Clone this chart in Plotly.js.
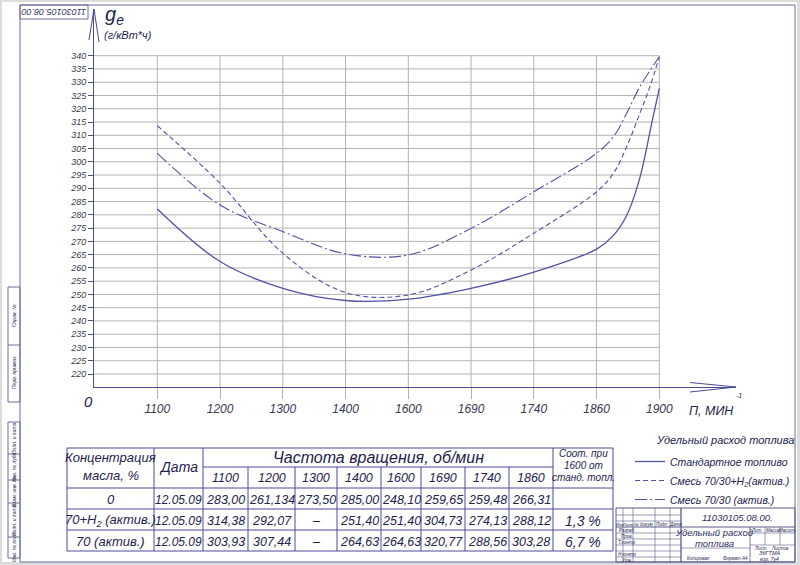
<!DOCTYPE html>
<html><head><meta charset="utf-8">
<script src="https://cdn.plot.ly/plotly-3.0.1.min.js"></script>
<style>html,body{margin:0;padding:0;background:#fff}#g{width:800px;height:565px}</style>
</head><body><div id="g"></div>
<script>
// ---------- data ----------
const rpmLabels = ['1100','1200','1300','1400','1600','1690','1740','1860','1900'];
const yTickVals = [220,225,230,235,240,245,250,255,260,265,270,275,280,285,290,295,300,305,310,315,320,325,330,335,340];

// curves (x = position index of the rpm column)
const stdX  = [0,1,2,3,4,5,6,7,7.25,7.47,7.68,7.89,8];
const stdY  = [282.2,262.4,252.3,247.7,248.2,252.3,258.4,267.1,271.8,279.3,293.1,315.8,327.7];
const h2X   = [0,1,2,3,4,5,6,7,7.27,7.48,7.69,7.85,8];
const h2Y   = [313.6,291.9,265.5,250.7,249.8,259.2,273.1,288.7,295.7,305.7,318.3,328.3,339.6];
const mixX  = [0,1,2,3,4,5,6,7,7.27,7.48,7.69,8];
const mixY  = [303.2,283.7,273.7,265.3,264.9,274.9,288.7,303.2,309.5,318.3,328.3,339.6];

const seriesNames = ['Стандартное топливо','Смесь 70/30+Н<sub>2</sub>(актив.)','Смесь 70/30 (актив.)'];

// table
const tableRpm  = ['1100','1200','1300','1400','1600','1690','1740','1860'];
const concLabels = ['0','70+H<sub>2</sub> (актив.)','70 (актив.)'];
const dates = ['12.05.09','12.05.09','12.05.09'];
const row0 = ['283,00','261,134','273,50','285,00','248,10','259,65','259,48','266,31'];
const row1 = ['314,38','292,07','–','251,40','251,40','304,73','274,13','288,12'];
const row2 = ['303,93','307,44','–','264,63','264,63','320,77','288,56','303,28'];
const ratio = ['','1,3 %','6,7 %'];

// ---------- layout helpers ----------
const W=800,H=565, ML=94, MR=64, MT=9, MB=178;
const PW=W-ML-MR, PH=H-MT-MB, AX_Y=H-MB;
const px=x=>(x-ML)/PW, py=y=>(AX_Y-y)/PH;
const F='Liberation Sans, Arial, sans-serif';
const TXT='#23234e', LN='#4b4b9b', CURVE='#5252a6', GRID='#b3b3b3';

const shapes=[], annotations=[];
function L(x0,y0,x1,y1,c,w){shapes.push({type:'line',xref:'paper',yref:'paper',x0:px(x0),y0:py(y0),x1:px(x1),y1:py(y1),line:{color:c||LN,width:w||1}});}
function R(x0,y0,x1,y1,c,w,fill){shapes.push({type:'rect',xref:'paper',yref:'paper',x0:px(x0),y0:py(y0),x1:px(x1),y1:py(y1),line:{color:c||LN,width:w===undefined?1:w},fillcolor:fill||'rgba(0,0,0,0)',layer:fill?'below':'above'});}
function A(text,x,y,size,o){o=o||{};annotations.push(Object.assign({text:text,xref:'paper',yref:'paper',x:px(x),y:py(y),showarrow:false,xanchor:o.xa||'center',yanchor:o.ya||'middle',textangle:o.ang||0,
  font:{family:F,size:size,color:o.c||TXT,style:'italic'},borderpad:0},o.extra||{}));}

// page background / frame
R(2,2,797,562,'rgba(0,0,0,0)',0,'#ffffff');
R(20,5,795,562,'#6c6c98',1);
R(20,5,88,19,'#6c6c98',1);
A('11030105.08.00',54,12,9,{ang:180,c:'#3a3a66'});
// left strip boxes
R(8,287,20,402,'#6c6c98',1); L(8,345,20,345,'#6c6c98');
R(8,422,20,558,'#6c6c98',1);
[454,480,503,537].forEach(y=>L(8,y,20,y,'#6c6c98'));
A('Справ. №',14,316,5,{ang:-90});A('Перв. примен.',14,373,5,{ang:-90});
A('Инв. № подл.',14,547,5,{ang:-90});A('Подп. и дата',14,520,5,{ang:-90});
A('Взам. инв. №',14,491,5,{ang:-90});A('Инв. № дубл.',14,467,5,{ang:-90});A('Подп. и дата',14,438,5,{ang:-90});

// grid lines built from the tick arrays (data coordinates)
yTickVals.forEach(v=>shapes.push({type:'line',xref:'x',yref:'y',x0:-1.009,x1:8,y0:v,y1:v,line:{color:GRID,width:1},layer:'below'}));
rpmLabels.forEach((l,i)=>shapes.push({type:'line',xref:'x',yref:'y',x0:i,x1:i,y0:215.1,y1:340,line:{color:GRID,width:1},layer:'below'}));

// axis arrows
L(94,9,89,40,LN,1);L(94,9,99,42,LN,1);
L(736,387,690,382.5,LN,1);L(736,387,690,392,LN,1);
// axis texts
A('g<sub>е</sub>',104,16,20,{xa:'left'});
A('(г/кВт*ч)',103,35,11,{xa:'left'});
A('0',88,401,15);
A('П, МИН',688,411,12.5,{xa:'left'});
A('-1',735,396,7,{xa:'left'});

// ---------- table ----------
const cx=[67,154,203,248,295,337,381,421,465,509,553,613];
const ry=[448,467,488,509,530,551];
R(cx[0],ry[0],cx[11],ry[5],LN,1);
[ry[2],ry[3],ry[4]].forEach(y=>L(cx[0],y,cx[11],y));
L(cx[2],ry[1],cx[10],ry[1]);
[cx[1],cx[2],cx[10]].forEach(x=>L(x,ry[0],x,ry[5]));
for(let i=3;i<10;i++) L(cx[i],ry[1],cx[i],ry[5]);
A('Концентрация',(cx[0]+cx[1])/2,457,13);
A('масла, %',(cx[0]+cx[1])/2,476,13);
A('Дата',(cx[1]+cx[2])/2,467,14);
A('Частота вращения, об/мин',(cx[2]+cx[10])/2,457,16);
tableRpm.forEach((t,i)=>A(t,(cx[i+2]+cx[i+3])/2,478,12.5));
A('Соот. при',583,453,10);A('1600 от',583,465,10);A('станд. топл.',583,477,10);
const rows=[row0,row1,row2];
rows.forEach((r,j)=>{
  const y=(ry[j+2]+ry[j+3])/2+1;
  A(concLabels[j],(cx[0]+cx[1])/2,y,13);
  A(dates[j],(cx[1]+cx[2])/2,y,12);
  r.forEach((v,i)=>A(v,(cx[i+2]+cx[i+3])/2,y,12.5));
  if(ratio[j]) A(ratio[j],(cx[10]+cx[11])/2,y,14);
});

// ---------- legend title ----------
A('Удельный расход топлива',655,440,11,{xa:'left'});

// ---------- title block ----------
const TB='#5a5a8a';
R(616,508,795,562,TB,1);
[515,521,533,539,545,551,557].forEach(y=>L(616,y,681,y,TB,0.6));
L(616,527,795,527,TB,1.2);
[623,633,655,670,681].forEach(x=>L(x,508,x,562,TB,0.6));
L(681,508,681,562,TB,1);
L(750,527,750,562,TB,0.8);
L(750,533,795,533,TB,0.6);L(750,545,795,545,TB,0.6);
L(765,527,765,545,TB,0.6);L(780,527,780,545,TB,0.6);
L(681,548,750,548,TB,0.6);
A('11030105.08.00.',738,517,9.5,{c:'#2e2e5e'});
A('Удельный расход',714,532,9.5,{c:'#2e2e5e'});
A('топлива',714,543,9.5,{c:'#2e2e5e'});
A('Изм',619.5,524,4);A('Лист',628,524,4);A('№ докум.',644,524,4.5);A('Подп.',662,524,4.5);A('Дата',675,524,4.5);
A('Разраб.',627,530,4.5);A('Пров.',627,536,4.5);A('Т.контр.',627,542,4.5);A('Н.контр.',627,554,4.5);A('Утв.',627,560,4.5);
A('Лит.',757,530,4.5);A('Масса',772.5,530,4.5);A('Масшт.',787.5,530,4.5);
A('Лист',760,548,4.5);A('Листов',780,548,4.5);
A('ЗбГТМА',770,553,5.5);A('кор. 7у4',770,558.5,5);
A('Копировал',698,558,4.5);A('Формат А4',735,558,4.5);

// ---------- traces ----------
const traces=[
 {x:stdX,y:stdY,name:seriesNames[0],mode:'lines',line:{color:CURVE,width:1.3,shape:'spline',smoothing:1}},
 {x:h2X,y:h2Y,name:seriesNames[1],mode:'lines',line:{color:CURVE,width:1.1,shape:'spline',smoothing:1,dash:'5px,3px'}},
 {x:mixX,y:mixY,name:seriesNames[2],mode:'lines',line:{color:CURVE,width:1.1,shape:'spline',smoothing:1,dash:'12px,3px,2px,3px'}}
];

const layout={
  width:W,height:H,
  margin:{l:ML,r:MR,t:MT,b:MB,autoexpand:false},
  paper_bgcolor:'#dcdcdc',plot_bgcolor:'rgba(0,0,0,0)',
  showlegend:true,
  legend:{x:px(630),y:py(447),xanchor:'left',yanchor:'top',bgcolor:'rgba(0,0,0,0)',itemwidth:30,
    font:{family:F,size:10.5,color:TXT,style:'italic'},tracegroupgap:0},
  xaxis:{range:[-1.009,9.222],tickmode:'array',tickvals:rpmLabels.map((l,i)=>i),ticktext:rpmLabels,
    showgrid:false,zeroline:false,showline:true,linecolor:LN,linewidth:1,
    ticks:'outside',ticklen:11,tickcolor:GRID,tickwidth:1,
    tickfont:{family:F,size:12,color:'#3a3a50',style:'italic'},fixedrange:true},
  yaxis:{range:[215.1,357.6],tickmode:'array',tickvals:yTickVals,ticktext:yTickVals.map(String),
    showgrid:false,zeroline:false,showline:true,linecolor:LN,linewidth:1,
    ticks:'outside',ticklen:5,tickcolor:'#555',tickwidth:1,
    tickfont:{family:F,size:9,color:'#3a3a50',style:'italic'},fixedrange:true},
  shapes:shapes,annotations:annotations
};
Plotly.newPlot('g',traces,layout,{displayModeBar:false,staticPlot:true});
</script></body></html>
